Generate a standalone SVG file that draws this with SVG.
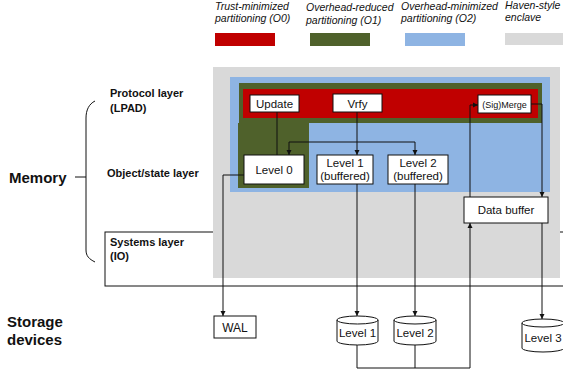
<svg xmlns="http://www.w3.org/2000/svg" width="563" height="370" viewBox="0 0 563 370">
<style>
text{font-family:"Liberation Sans",Arial,sans-serif;fill:#111}
.lg{font-size:10.5px;font-style:italic}
.lay{font-size:11px;font-weight:bold}
.big{font-size:15px;font-weight:bold}
.bx{fill:#fff;stroke:#111;stroke-width:1}
.bt{font-size:11.5px;text-anchor:middle}
.ln{fill:none;stroke:#111;stroke-width:1}
.ar{fill:none;stroke:#111;stroke-width:1;marker-end:url(#ah)}
</style>
<defs>
<marker id="ah" markerWidth="6" markerHeight="6" refX="5" refY="3" orient="auto" markerUnits="userSpaceOnUse">
<path d="M0,0.5 L5,3 L0,5.5 Z" fill="#111"/>
</marker>
</defs>
<rect width="563" height="370" fill="#fff"/>
<g id="legend">
<text class="lg" x="215" y="10">Trust-minimized</text>
<text class="lg" x="215" y="22">partitioning (O0)</text>
<rect x="215" y="33" width="60" height="13" fill="#C00000"/>
<text class="lg" x="306" y="11">Overhead-reduced</text>
<text class="lg" x="306" y="24">partitioning (O1)</text>
<rect x="310" y="33" width="60" height="13" fill="#4F612B"/>
<text class="lg" x="401" y="10">Overhead-minimized</text>
<text class="lg" x="401" y="22">partitioning (O2)</text>
<rect x="405" y="33" width="60" height="13" fill="#8EB4E3"/>
<text class="lg" x="505" y="9">Haven-style</text>
<text class="lg" x="505" y="21">enclave</text>
<rect x="505" y="33" width="60" height="12" fill="#D9D9D9"/>
</g>
<g id="systems-layer">
<rect x="105" y="232" width="470" height="54" fill="none" stroke="#111" stroke-width="1"/>
</g>
<g id="enclave">
<rect x="213" y="67" width="347" height="211" fill="#D9D9D9"/>
</g>
<g id="o2">
<rect x="230" y="77" width="320" height="115" fill="#8EB4E3"/>
</g>
<g id="o1">
<path d="M239,83 H542 V123 H309 V188 H238 V123 H239 Z" fill="#4F612B"/>
</g>
<g id="o0">
<rect x="243" y="89" width="295" height="29" fill="#C00000"/>
</g>
<g id="labels">
<text class="lay" x="110" y="97">Protocol layer</text>
<text class="lay" x="110" y="112">(LPAD)</text>
<text class="lay" x="107" y="177">Object/state layer</text>
<text class="lay" x="110" y="246">Systems layer</text>
<text class="lay" x="110" y="260">(IO)</text>
<text class="big" x="9" y="183">Memory</text>
<text class="big" x="7" y="327">Storage</text>
<text class="big" x="7" y="345">devices</text>
<path class="ln" d="M95,101 C89,104 86,110 86,118 L86,250 C86,256 89,259 95,262 M75,177 H86"/>
</g>
<g id="update"><rect class="bx" x="250" y="95" width="49" height="17"/><text class="bt" x="274.5" y="108">Update</text></g>
<g id="vrfy"><rect class="bx" x="333" y="94" width="49" height="18"/><text class="bt" x="357.5" y="107.5">Vrfy</text></g>
<g id="sigmerge"><rect class="bx" x="478" y="95" width="53" height="18"/><text class="bt" x="504.5" y="107.5" style="font-size:9px">(Sig)Merge</text></g>
<g id="level0"><rect class="bx" x="244" y="155" width="60" height="29"/><text class="bt" x="274" y="173.5">Level 0</text></g>
<g id="level1b"><rect class="bx" x="317" y="155" width="56" height="29"/><text class="bt" x="345" y="167">Level 1</text><text class="bt" x="345" y="180">(buffered)</text></g>
<g id="level2b"><rect class="bx" x="388" y="155" width="60" height="29"/><text class="bt" x="418" y="167">Level 2</text><text class="bt" x="418" y="180">(buffered)</text></g>
<g id="databuffer"><rect class="bx" x="464" y="197" width="84" height="26"/><text class="bt" x="506" y="214">Data buffer</text></g>
<g id="wal"><rect class="bx" x="214" y="316" width="42" height="22"/><text class="bt" x="235" y="331.5" style="font-size:12px">WAL</text></g>
<g id="disk1"><path class="bx" d="M337,320 V341 A20.5,4 0 0 0 378,341 V320 A20.5,4 0 0 0 337,320 A20.5,4 0 0 0 378,320"/><text class="bt" x="357.5" y="337">Level 1</text></g>
<g id="disk2"><path class="bx" d="M394,320 V341 A21,4 0 0 0 436,341 V320 A21,4 0 0 0 394,320 A21,4 0 0 0 436,320"/><text class="bt" x="415" y="337">Level 2</text></g>
<g id="disk3"><path class="bx" d="M522,323 V348 A21,4 0 0 0 564,348 V323 A21,4 0 0 0 522,323 A21,4 0 0 0 564,323"/><text class="bt" x="543" y="342">Level 3</text></g>
<g id="connectors">
<path class="ln" d="M277,112 V155"/>
<path class="ln" d="M357,112 V142 M289,142 H415"/>
<path class="ar" d="M289,142 V155"/>
<path class="ar" d="M357,142 V155"/>
<path class="ar" d="M415,142 V155"/>
<path class="ar" d="M244,175 H223 V316"/>
<path class="ar" d="M357,184 V316"/>
<path class="ar" d="M415,184 V316"/>
<path class="ar" d="M357,345 V368 H470 V223"/>
<path class="ln" d="M415,345 V368"/>
<path class="ar" d="M470,197 V105 H478"/>
<path class="ar" d="M531,104 H542 V197"/>
<path class="ar" d="M542,223 V319"/>
</g>
</svg>
